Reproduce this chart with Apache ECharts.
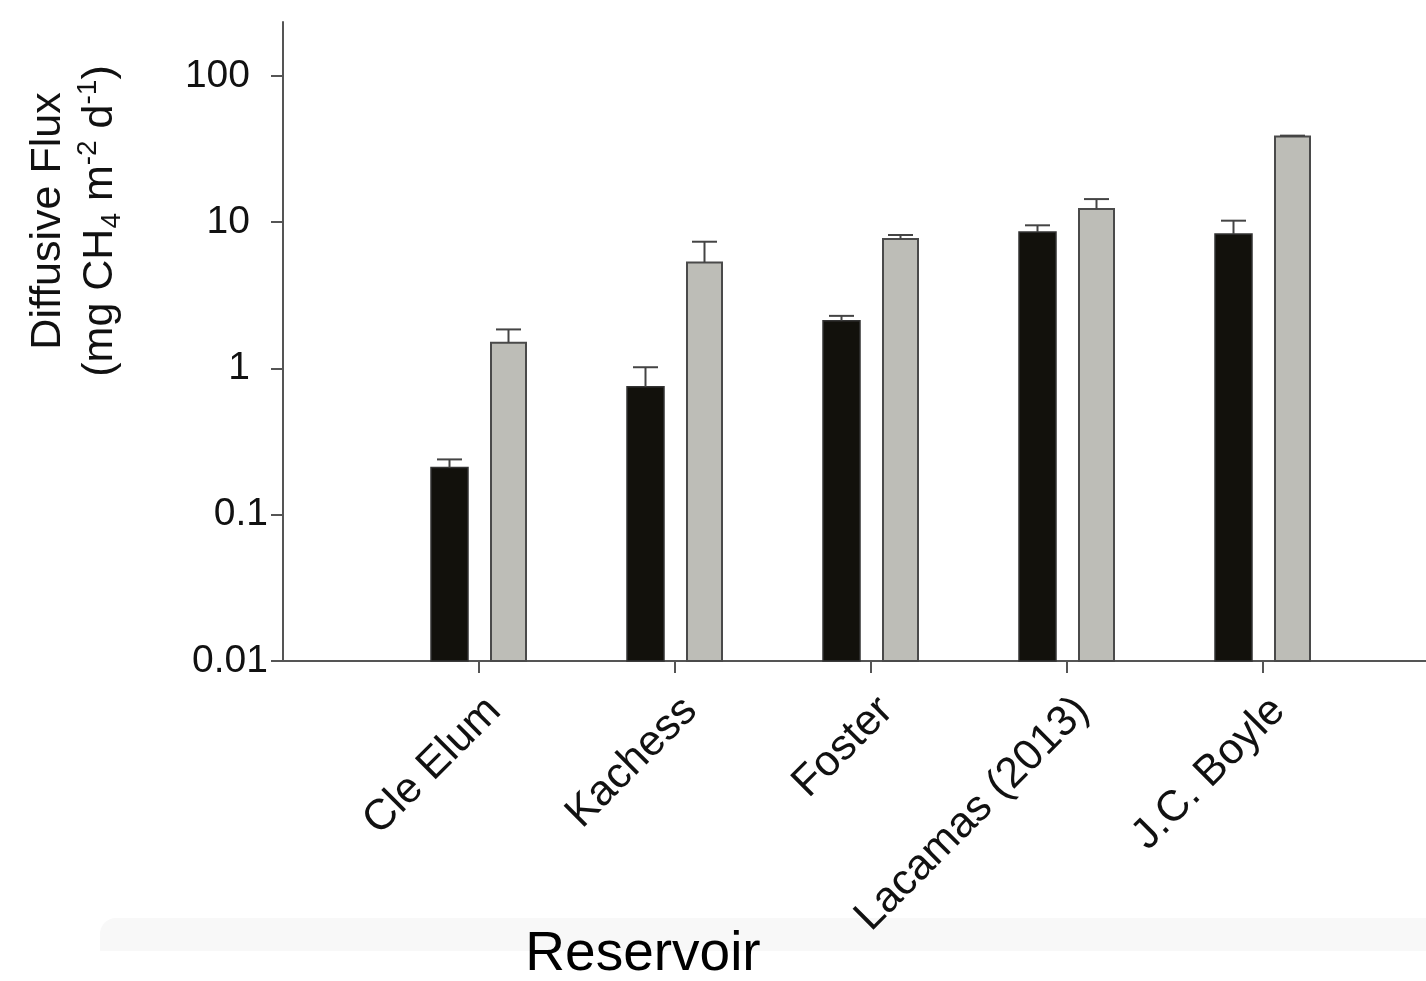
<!DOCTYPE html>
<html>
<head>
<meta charset="utf-8">
<script src="https://cdn.jsdelivr.net/npm/echarts@6/dist/echarts.min.js"></script>
<style>
  html, body { margin: 0; padding: 0; background: #fff; }
  #main { width: 1426px; height: 981px; }
</style>
</head>
<body>
<div id="main"></div>
<script>
// reservoirs on the x axis
var reservoirs = ["Cle Elum", "Kachess", "Foster", "Lacamas (2013)", "J.C. Boyle"];
// black bars and the top of their error bars
var blackFlux = [0.21, 0.75, 2.12, 8.58, 8.3];
var blackUpper = [0.239, 1.02, 2.29, 9.53, 10.25];
// grey bars and the top of their error bars
var greyFlux = [1.5, 5.3, 7.68, 12.3, 38.5];
var greyUpper = [1.85, 7.36, 8.18, 14.4, 39.1];
var yTicks = [0.01, 0.1, 1, 10, 100];
var yMin = 0.01;
var yMax = 234;

var font = "Liberation Sans, Arial, sans-serif";
var half = 29.5; // distance of each bar centre from the category tick

// one empty slot on each side so the ticks land where the figure has them
var cats = [""].concat(reservoirs, [""]);

function toData(values, uppers) {
  return values.map(function (v, i) {
    return [i + 1, v, uppers[i]];
  });
}

// bars have to start at the axis minimum, log bars in echarts start at 1
function barSeries(values, uppers, side, width, fill, stroke, lw) {
  return {
    type: "custom",
    z: 3,
    data: toData(values, uppers),
    encode: { x: 0, y: [1, 2] },
    renderItem: function (params, api) {
      var top = api.coord([api.value(0), api.value(1)]);
      var base = api.coord([api.value(0), yMin]);
      var x = top[0] + side * half;
      return {
        type: "rect",
        shape: { x: x - width / 2, y: top[1], width: width, height: base[1] - top[1] },
        style: { fill: fill, stroke: stroke, lineWidth: lw },
      };
    },
  };
}

function errorSeries(values, uppers, side) {
  return {
    type: "custom",
    z: 5,
    data: toData(values, uppers),
    encode: { x: 0, y: [1, 2] },
    renderItem: function (params, api) {
      var p0 = api.coord([api.value(0), api.value(1)]);
      var p1 = api.coord([api.value(0), api.value(2)]);
      var x = p0[0] + side * half;
      return {
        type: "group",
        children: [
          {
            type: "line",
            shape: { x1: x, y1: p0[1], x2: x, y2: p1[1] },
            style: { stroke: "#444", lineWidth: 2 },
          },
          {
            type: "line",
            shape: { x1: x - 12.5, y1: p1[1], x2: x + 12.5, y2: p1[1] },
            style: { stroke: "#444", lineWidth: 2 },
          },
        ],
      };
    },
  };
}

var myChart = echarts.init(document.getElementById("main"));
var option = {
  animation: false,
  backgroundColor: "#fff",
  grid: { left: 283, top: 22, bottom: 320, right: -33, outerBoundsMode: "none", containLabel: false },
  xAxis: {
    type: "category",
    data: cats,
    boundaryGap: false,
    axisLine: { lineStyle: { color: "#555", width: 2 } },
    axisTick: {
      length: 12,
      lineStyle: { color: "#555", width: 2 },
      interval: function (index) {
        return index > 0 && index < cats.length - 1;
      },
    },
    axisLabel: {
      interval: 0,
      rotate: 45,
      margin: 28,
      verticalAlign: "top",
      color: "#111",
      fontFamily: font,
      fontSize: 43,
    },
    splitLine: { show: false },
  },
  yAxis: {
    type: "log",
    logBase: 10,
    min: yMin,
    max: yMax,
    axisLine: { show: true, lineStyle: { color: "#555", width: 2 } },
    axisTick: { show: true, length: 12, lineStyle: { color: "#555", width: 2 } },
    axisLabel: {
      margin: 15,
      color: "#111",
      fontFamily: font,
      fontSize: 39,
      showMaxLabel: false,
      formatter: function (v) {
        for (var i = 0; i < yTicks.length; i++) {
          if (Math.abs(v - yTicks[i]) < yTicks[i] * 1e-6) {
            return yTicks[i] >= 1 ? "{i|" + yTicks[i] + "}" : String(yTicks[i]);
          }
        }
        return "";
      },
      rich: {
        i: { fontFamily: font, fontSize: 39, color: "#111", padding: [0, 18, 0, 0] },
      },
    },
    splitLine: { show: false },
  },
  series: [
    barSeries(blackFlux, blackUpper, -1, 37, "#12110c", "#333", 1.5),
    barSeries(greyFlux, greyUpper, 1, 35, "#bdbdb7", "#4a4a4a", 2),
    errorSeries(blackFlux, blackUpper, -1),
    errorSeries(greyFlux, greyUpper, 1),
  ],
  graphic: [
    {
      type: "rect",
      z: -10,
      shape: { x: 100, y: 918, width: 1326, height: 33, r: [16, 0, 0, 0] },
      style: { fill: "#f8f8f8" },
    },
    {
      type: "text",
      x: 74,
      y: 221,
      rotation: Math.PI / 2,
      style: {
        text: "Diffusive Flux\n(mg CH{sub|4} m{sup|-2} d{sup|-1})",
        fontFamily: font,
        fontSize: 43,
        lineHeight: 52,
        fill: "#111",
        align: "center",
        verticalAlign: "middle",
        rich: {
          sub: { fontSize: 28, fontFamily: font, verticalAlign: "bottom", fill: "#111" },
          sup: { fontSize: 28, fontFamily: font, verticalAlign: "top", fill: "#111" },
        },
      },
    },
    {
      type: "text",
      x: 643,
      y: 955,
      style: {
        text: "Reservoir",
        fontFamily: font,
        fontSize: 55,
        fill: "#000",
        align: "center",
        verticalAlign: "middle",
      },
    },
  ],
};
myChart.setOption(option);
window.addEventListener("resize", function () {
  myChart.resize();
});
</script>
</body>
</html>
